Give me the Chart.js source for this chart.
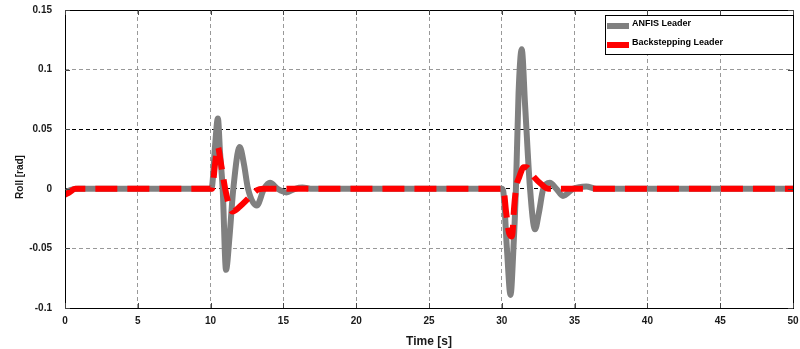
<!DOCTYPE html>
<html>
<head>
<meta charset="utf-8">
<script src="https://cdn.jsdelivr.net/npm/chart.js@4.4.1/dist/chart.umd.min.js"></script>
<style>
html,body{margin:0;padding:0;background:#fff;}
#wrap{width:800px;height:349px;position:relative;}
</style>
</head>
<body>
<div id="wrap"><canvas id="c"></canvas></div>
<script>
// ---- data ----
const anfisT = [0, 0.4, 0.9, 10.0, 10.1, 10.3, 10.5, 10.65, 10.83, 11.06, 11.3, 11.56, 12.0, 12.3, 12.57, 13.17, 13.67, 14.08, 14.6, 15.2, 15.8, 16.3, 17.0, 30.0, 30.1, 30.35, 30.6, 30.8, 30.97, 31.15, 31.37, 31.6, 31.94, 32.28, 32.55, 32.85, 33.3, 33.75, 34.2, 34.9, 35.8, 36.5, 50];
const anfisY = [-0.003, -0.001, 0, 0, 0.002, 0.035, 0.059, 0.03, 0, -0.068, -0.04, 0, 0.035, 0.02, 0, -0.014, 0, 0.005, 0, -0.003, 0, 0.001, 0, 0, -0.002, -0.05, -0.089, -0.05, 0, 0.08, 0.117, 0.07, 0, -0.034, -0.02, 0, 0.005, 0, -0.006, 0, 0.002, 0, 0];
const backT = [0, 0.3, 0.7, 10.1, 10.3, 10.5, 10.7, 11.0, 11.25, 11.5, 12.0, 12.6, 13.2, 13.6, 30.1, 30.3, 30.5, 30.7, 30.85, 31.0, 31.2, 31.5, 31.7, 32.2, 32.7, 33.2, 50];
const backY = [-0.005, -0.003, 0, 0, 0.02, 0.035, 0.022, 0, -0.013, -0.019, -0.015, -0.008, -0.001, 0, 0, -0.02, -0.037, -0.04, -0.015, 0.002, 0.01, 0.018, 0.018, 0.01, 0.004, 0, 0];
const seriesNames = ['ANFIS Leader', 'Backstepping Leader'];
const xTicks = [0, 5, 10, 15, 20, 25, 30, 35, 40, 45, 50];
const yTicks = [-0.1, -0.05, 0, 0.05, 0.1, 0.15];
const yTickLabels = ['-0.1', '-0.05', '0', '0.05', '0.1', '0.15'];
const xTitle = 'Time [s]';
const yTitle = 'Roll [rad]';

const toPts = (ts, ys) => ts.map((t, i) => ({x: t, y: ys[i]}));
const FONT = '"Liberation Sans", Arial, sans-serif';
const TXT = '#1a1a1a';

const frame = {
  id: 'frame',
  afterDraw(chart) {
    const {ctx, chartArea: a, scales} = chart;
    ctx.save();
    ctx.strokeStyle = '#000';
    ctx.lineWidth = 1;
    ctx.setLineDash([]);
    ctx.strokeRect(Math.round(a.left) + 0.5, Math.round(a.top) + 0.5, Math.round(a.right - a.left), Math.round(a.bottom - a.top));
    // inward tick marks
    ctx.strokeStyle = '#444';
    ctx.beginPath();
    scales.x.ticks.forEach(t => {
      const px = Math.round(scales.x.getPixelForValue(t.value)) + 0.5;
      ctx.moveTo(px, a.bottom); ctx.lineTo(px, a.bottom - 5);
      ctx.moveTo(px, a.top); ctx.lineTo(px, a.top + 5);
    });
    scales.y.ticks.forEach(t => {
      const py = Math.round(scales.y.getPixelForValue(t.value)) + 0.5;
      ctx.moveTo(a.left, py); ctx.lineTo(a.left + 5, py);
      ctx.moveTo(a.right, py); ctx.lineTo(a.right - 5, py);
    });
    ctx.stroke();
    // y title
    ctx.save();
    ctx.translate(20, 177);
    ctx.rotate(-Math.PI / 2);
    ctx.font = 'bold 10px ' + FONT;
    ctx.fillStyle = TXT;
    ctx.textAlign = 'center';
    ctx.textBaseline = 'middle';
    ctx.fillText(yTitle, 0, 0);
    ctx.restore();
    // legend
    const lx = 605, ly = 15, lw = 188, lh = 39;
    ctx.fillStyle = '#fff';
    ctx.fillRect(lx, ly, lw, lh);
    ctx.strokeStyle = '#000';
    ctx.strokeRect(lx + 0.5, ly + 0.5, lw, lh);
    ctx.font = 'bold 9px ' + FONT;
    ctx.textBaseline = 'middle';
    ctx.textAlign = 'left';
    chart.data.datasets.forEach((ds, i) => {
      const yy = ly + 10 + i * 19;
      ctx.fillStyle = ds.borderColor;
      ctx.fillRect(lx + 2, yy - 2, 22, 6);
      ctx.fillStyle = '#000';
      ctx.fillText(ds.label, lx + 27, yy - 1);
    });
    ctx.restore();
  }
};

new Chart(document.getElementById('c'), {
  type: 'line',
  data: {
    datasets: [
      {label: seriesNames[0], data: toPts(anfisT, anfisY), borderColor: '#808080', borderWidth: 6, pointRadius: 0, cubicInterpolationMode: 'monotone', order: 2, fill: false},
      {label: seriesNames[1], data: toPts(backT, backY), borderColor: '#ff0000', borderWidth: 6, borderDash: [22, 10], borderCapStyle: 'butt', pointRadius: 0, cubicInterpolationMode: 'monotone', order: 1, fill: false}
    ]
  },
  plugins: [frame],
  options: {
    responsive: true,
    maintainAspectRatio: false,
    animation: false,
    layout: {padding: {left: 0, right: 7, top: 10, bottom: 0}},
    plugins: {legend: {display: false}, tooltip: {enabled: false}},
    scales: {
      x: {
        type: 'linear', min: 0, max: 50,
        afterBuildTicks: s => { s.ticks = xTicks.map(v => ({value: v})); },
        afterFit: s => { s.height = 41; s.paddingLeft = 0; s.paddingRight = 0; },
        grid: {color: '#999', drawTicks: false, lineWidth: 1},
        border: {display: false, dash: [4, 3]},
        ticks: {color: TXT, font: {family: FONT, size: 10, weight: 'bold'}, padding: 7, maxRotation: 0},
        title: {display: true, text: xTitle, color: TXT, font: {family: FONT, size: 12, weight: 'bold'}, padding: {top: 4, bottom: 0}}
      },
      y: {
        type: 'linear', min: -0.1, max: 0.15,
        afterBuildTicks: s => { s.ticks = yTicks.map(v => ({value: v})); },
        afterFit: s => { s.width = 65; s.paddingTop = 0; s.paddingBottom = 0; },
        grid: {
          color: ctx => {
            const v = ctx.tick ? ctx.tick.value : null;
            return (v !== null && (Math.abs(v) < 1e-9 || Math.abs(v - 0.05) < 1e-9)) ? '#000' : '#999';
          },
          drawTicks: false, lineWidth: 1
        },
        border: {display: false, dash: [4, 3]},
        ticks: {
          color: TXT, font: {family: FONT, size: 10, weight: 'bold'}, padding: 13,
          callback: (v) => { const i = yTicks.findIndex(t => Math.abs(t - v) < 1e-9); return i >= 0 ? yTickLabels[i] : ''; }
        },
        title: {display: false}
      }
    }
  }
});
</script>
</body>
</html>
